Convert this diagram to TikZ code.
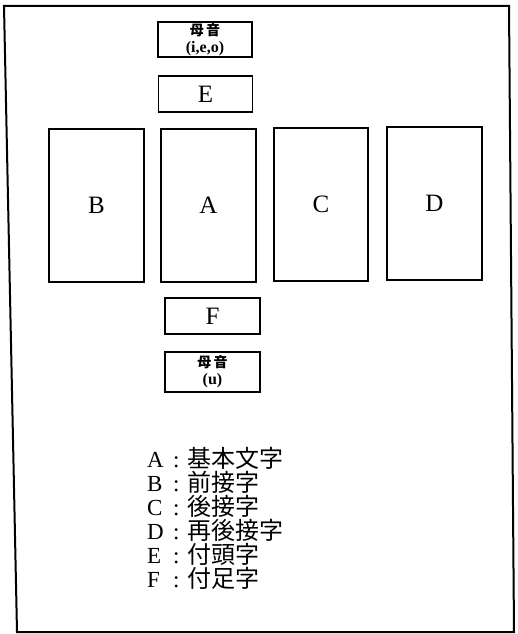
\documentclass[tikz,border=0pt]{standalone}
\usepackage{fontspec}
\setmainfont{Liberation Serif}
\newfontfamily\cjk{Noto Sans CJK JP}
\begin{document}
\begin{tikzpicture}[x=1pt,y=-1pt,
  bigbox/.style={draw,line width=1.2pt,inner sep=0pt,minimum width=95pt,minimum height=153pt,font=\fontsize{25}{25}\selectfont},
  smallbox/.style={draw,line width=1.2pt,inner sep=0pt,minimum width=94pt,minimum height=36pt,font=\fontsize{25}{25}\selectfont},
  vowelbox/.style={draw,line width=1.2pt,inner sep=0pt,minimum width=94pt,align=center,font=\fontsize{16}{17}\selectfont\bfseries},
  legend/.style={anchor=base west,inner sep=0pt,font=\fontsize{23}{24}\selectfont}]
\useasboundingbox (0,0) rectangle (517,634);
% outer frame
\coordinate (tl) at (4,6);
\coordinate (tr) at (509,6);
\coordinate (br) at (514,632);
\coordinate (bl) at (17,632);
\draw[line width=2pt] (tl) -- (tr) -- (br) -- (bl) -- cycle;
% boxes
\node[vowelbox,minimum height=35pt] (V1) at (205,39.5) {{\cjk\fontsize{14}{17}\selectfont 母\,音}\\(i,e,o)};
\node[smallbox] (E) at (205.5,94) {E};
\node[bigbox] (B) at (96.5,205.5) {B};
\node[bigbox] (A) at (208.5,205.5) {A};
\node[bigbox,minimum width=94pt] (C) at (321,204.5) {C};
\node[bigbox] (D) at (434.5,203.5) {D};
\node[smallbox,minimum width=95pt] (F) at (212.5,316) {F};
\node[vowelbox,minimum width=95pt,minimum height=40pt] (V2) at (212.5,372) {{\cjk\fontsize{14}{17}\selectfont 母\,音}\\(u)};
% legend
\node[legend] (L1) at (147,467) {\makebox[26pt][l]{A}\makebox[14pt][l]{:}{\cjk\fontsize{24}{24}\selectfont 基本文字}};
\node[legend] (L2) at (147,491) {\makebox[26pt][l]{B}\makebox[14pt][l]{:}{\cjk\fontsize{24}{24}\selectfont 前接字}};
\node[legend] (L3) at (147,515) {\makebox[26pt][l]{C}\makebox[14pt][l]{:}{\cjk\fontsize{24}{24}\selectfont 後接字}};
\node[legend] (L4) at (147,539) {\makebox[26pt][l]{D}\makebox[14pt][l]{:}{\cjk\fontsize{24}{24}\selectfont 再後接字}};
\node[legend] (L5) at (147,563) {\makebox[26pt][l]{E}\makebox[14pt][l]{:}{\cjk\fontsize{24}{24}\selectfont 付頭字}};
\node[legend] (L6) at (147,587) {\makebox[26pt][l]{F}\makebox[14pt][l]{:}{\cjk\fontsize{24}{24}\selectfont 付足字}};
\end{tikzpicture}
\end{document}
